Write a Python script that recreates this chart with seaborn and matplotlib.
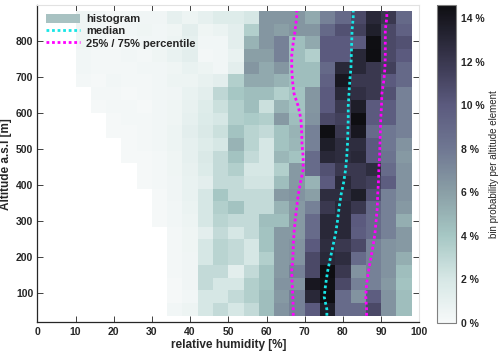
import numpy as np
import pandas as pd
import matplotlib
matplotlib.use('Agg')
import matplotlib.pyplot as plt
from matplotlib.colors import LinearSegmentedColormap
from matplotlib.patches import Patch
from matplotlib.lines import Line2D
import seaborn as sns

# relative humidity bins (centres, %), 4 % wide
rh_centers = [4, 8, 12, 16, 20, 24, 28, 32, 36, 40, 44, 48,
              52, 56, 60, 64, 68, 72, 76, 80, 84, 88, 92, 96]
rh_edges = [2, 6, 10, 14, 18, 22, 26, 30, 34, 38, 42, 46, 50,
            54, 58, 62, 66, 70, 74, 78, 82, 86, 90, 94, 98]

# altitude bins (m a.s.l.), bottom edge and step
alt_bottom = 36.4
alt_step = 35.25
n_alt = 24

# bin probability per altitude element [%], rows listed from TOP to BOTTOM
prob_rows = [
    [0, 0, 0.5, 0.3, 0.2, 0.3, 0.4, 0.4, 1.0, 0.6, 1.0, 1.5, 1.5, 2.0, 6.5, 6.5, 6.5, 5.5, 7.5, 9.0, 11.0, 13.0, 12.0, 9.0],
    [0, 0, 0.5, 0.3, 0.1, 0.3, 0.5, 0.3, 0.5, 1.2, 0.5, 0.7, 1.2, 3.5, 6.5, 6.0, 6.5, 6.5, 9.0, 10.5, 11.5, 13.5, 11.0, 9.5],
    [0, 0, 0.5, 0.3, 0.1, 0.2, 0.3, 0.3, 0.6, 1.0, 0.3, 0.3, 1.2, 5.0, 6.5, 7.5, 4.5, 5.5, 10.0, 10.0, 10.0, 14.5, 11.0, 10.5],
    [0, 0, 0.3, 0.2, 0.2, 0.3, 0.2, 0.5, 0.8, 1.2, 0.2, 0.3, 0.8, 6.0, 6.0, 7.5, 4.5, 3.5, 10.0, 10.0, 13.0, 14.6, 11.0, 10.0],
    [0, 0, 0.3, 0.2, 0.2, 0.2, 0.3, 0.3, 0.5, 0.8, 0.6, 0.3, 1.2, 6.5, 5.5, 6.5, 4.5, 4.5, 9.0, 13.0, 13.0, 12.0, 11.5, 9.0],
    [0, 0, 0.2, 0.1, 0.3, 0.2, 0.2, 0.3, 0.6, 0.6, 0.9, 1.2, 3.5, 5.5, 5.5, 5.0, 4.5, 4.5, 9.5, 14.0, 12.0, 12.0, 10.0, 9.0],
    [0, 0, 0, 0.2, 0.2, 0.1, 0.2, 0.3, 0.4, 0.8, 1.2, 3.0, 4.0, 4.5, 4.5, 3.5, 4.2, 6.5, 10.0, 13.0, 12.5, 12.0, 10.5, 7.5],
    [0, 0, 0, 0.1, 0.2, 0.2, 0.1, 0.3, 0.5, 0.9, 1.5, 2.5, 3.5, 4.5, 2.5, 5.0, 4.2, 6.5, 10.0, 12.0, 13.6, 10.0, 9.8, 7.5],
    [0, 0, 0, 0, 0.1, 0.2, 0.2, 0.3, 0.5, 1.0, 1.6, 2.0, 3.5, 3.8, 3.5, 6.3, 4.5, 6.6, 11.0, 11.5, 14.6, 10.0, 9.8, 7.5],
    [0, 0, 0, 0, 0.1, 0.1, 0.2, 0.3, 0.6, 1.2, 1.8, 2.5, 4.2, 3.2, 2.8, 4.2, 5.0, 7.5, 14.5, 12.0, 14.0, 8.8, 8.0, 7.5],
    [0, 0, 0, 0, 0, 0.1, 0.2, 0.3, 0.6, 1.0, 1.5, 2.0, 5.0, 3.2, 2.0, 4.2, 4.8, 7.5, 13.6, 12.7, 12.7, 10.0, 8.0, 6.6],
    [0, 0, 0, 0, 0, 0.1, 0.1, 0.2, 0.5, 1.0, 1.8, 2.8, 4.2, 2.8, 2.0, 4.8, 4.2, 8.8, 13.0, 12.7, 13.0, 10.0, 8.3, 6.3],
    [0, 0, 0, 0, 0, 0, 0.1, 0.2, 0.5, 0.9, 1.6, 2.8, 3.5, 2.0, 2.0, 3.5, 6.3, 8.8, 10.5, 12.0, 12.0, 12.7, 8.8, 6.6],
    [0, 0, 0, 0, 0, 0, 0.1, 0.2, 0.4, 0.8, 1.2, 2.8, 2.8, 2.2, 2.2, 4.5, 6.3, 5.0, 10.0, 13.0, 12.0, 11.5, 9.8, 6.6],
    [0, 0, 0, 0, 0, 0, 0, 0.1, 0.4, 0.8, 2.0, 4.0, 2.8, 2.8, 2.8, 6.3, 6.6, 6.0, 12.7, 12.7, 13.6, 10.5, 7.5, 6.6],
    [0, 0, 0, 0, 0, 0, 0, 0.1, 0.3, 0.7, 2.0, 3.5, 4.2, 2.8, 2.8, 5.0, 6.3, 7.5, 12.0, 13.0, 12.0, 9.0, 7.5, 6.3],
    [0, 0, 0, 0, 0, 0, 0, 0.1, 0.3, 0.6, 2.0, 3.2, 2.8, 2.8, 4.5, 4.5, 6.3, 8.8, 13.0, 13.0, 10.0, 8.8, 7.5, 5.3],
    [0, 0, 0, 0, 0, 0, 0, 0, 0.2, 0.5, 1.2, 2.8, 2.0, 2.8, 4.2, 6.3, 6.3, 8.8, 13.0, 13.0, 9.8, 8.8, 7.5, 6.3],
    [0, 0, 0, 0, 0, 0, 0, 0, 0.2, 0.5, 2.0, 3.2, 2.8, 2.0, 4.2, 6.3, 6.6, 10.0, 12.7, 12.0, 11.0, 7.5, 6.6, 6.3],
    [0, 0, 0, 0, 0, 0, 0, 0, 0.2, 0.4, 2.0, 3.2, 2.8, 2.0, 3.5, 6.3, 6.6, 11.0, 13.0, 12.7, 8.8, 7.5, 6.6, 5.3],
    [0, 0, 0, 0, 0, 0, 0, 0, 0.2, 0.4, 2.8, 2.8, 1.2, 2.8, 4.2, 6.3, 7.5, 11.0, 14.6, 12.0, 6.6, 7.5, 6.6, 4.5],
    [0, 0, 0, 0, 0, 0, 0, 0, 0.1, 0.4, 2.8, 2.0, 2.0, 3.5, 4.2, 6.6, 6.6, 14.0, 14.4, 11.0, 7.5, 7.5, 6.3, 4.2],
    [0, 0, 0, 0, 0, 0, 0, 0, 0.1, 0.3, 2.0, 2.0, 2.8, 3.5, 4.5, 6.3, 7.5, 13.0, 14.6, 8.8, 6.6, 9.8, 6.6, 4.5],
    [0, 0, 0, 0, 0, 0, 0, 0, 0.3, 0.6, 2.0, 2.8, 2.0, 2.8, 4.5, 6.6, 7.5, 10.0, 13.6, 8.8, 8.8, 11.0, 6.6, 4.5],
]

# median and 25 / 75 % percentiles of RH per altitude bin, TOP to BOTTOM
median_rh = [82.7, 82.4, 82.3, 82.2, 82.1, 81.8, 81.6, 81.4, 81.4, 81.3, 81.2, 81.0,
             80.7, 80.2, 79.5, 79.0, 78.6, 78.1, 77.4, 76.7, 76.0, 75.5, 75.1, 75.8]
p25_rh = [67.9, 67.5, 67.0, 66.6, 66.6, 66.8, 67.2, 68.3, 69.0, 69.2, 69.3, 69.6,
          69.6, 68.9, 68.3, 67.9, 67.5, 67.2, 67.0, 66.9, 66.6, 66.7, 66.9, 67.0]
p75_rh = [91.5, 91.1, 91.1, 91.1, 91.0, 90.7, 90.2, 90.1, 89.9, 89.8, 89.7, 89.6,
          89.4, 89.3, 89.1, 89.0, 88.7, 88.4, 87.9, 87.3, 86.7, 86.2, 86.0, 86.2]

# colormap
cb_levels = [0, 2, 4, 6, 8, 10, 12, 14.6]
cb_colors = ['#f6f9f9', '#d6e7e5', '#a6c7c4', '#8a9fa6', '#6f7792', '#5b5a7e', '#3a3850', '#0e0e12']
vmax = 14.6

cmap = LinearSegmentedColormap.from_list(
    'rh', [(l / vmax, c) for l, c in zip(cb_levels, cb_colors)])

alt_edges = alt_bottom + alt_step * np.arange(n_alt + 1)
alt_centers = (alt_edges[:-1] + alt_edges[1:]) / 2

prob = np.array(prob_rows)[::-1]          # bottom to top
xx, yy = np.meshgrid(rh_centers, alt_centers)
df = pd.DataFrame({'rh': xx.ravel(), 'alt': yy.ravel(), 'p': prob.ravel()})
df = df[df['p'] > 0]

sns.set_style('ticks')
plt.rcParams['font.family'] = ['Liberation Sans', 'DejaVu Sans']
plt.rcParams['font.weight'] = 'bold'
plt.rcParams['axes.labelweight'] = 'bold'

fig = plt.figure(figsize=(5, 3.57), dpi=100)
ax = fig.add_axes([0.0746, 0.097, 0.764, 0.889])
cax = fig.add_axes([0.8746, 0.096, 0.0368, 0.890])

sns.histplot(data=df, x='rh', y='alt', weights='p', bins=(rh_edges, alt_edges),
             cmap=cmap, vmin=0, vmax=vmax, cbar=True, cbar_ax=cax, ax=ax)

# lines, extended to the outer edges of the histogram
alt_line = np.r_[alt_edges[0], alt_centers, alt_edges[-1]]
for vals, col in [(median_rh, '#16e6e6'), (p25_rh, '#ff00ff'), (p75_rh, '#ff00ff')]:
    v = np.array(vals)[::-1]
    v = np.r_[v[0], v, v[-1]]
    sns.lineplot(x=v, y=alt_line, orient='y', estimator=None, color=col,
                 linestyle=(0, (1, 1)), lw=2.0, ax=ax, legend=False)

ax.set_xlim(0, 100)
ax.set_ylim(17.8, 899)
ax.set_xticks(range(0, 101, 10))
ax.set_yticks(range(100, 801, 100))
ax.set_xlabel('relative humidity [%]', fontsize=8.5, labelpad=2)
ax.set_ylabel('Altitude a.s.l [m]', fontsize=8.5, labelpad=3)
ax.tick_params(direction='in', length=4, width=0.7, labelsize=7.5, pad=3, color='#404040',
               top=True, right=True)
for t in ax.get_xticklabels() + ax.get_yticklabels():
    t.set_fontweight('bold')
for s in ['left', 'bottom']:
    ax.spines[s].set_color('#262626')
    ax.spines[s].set_linewidth(0.9)
for s in ['top', 'right']:
    ax.spines[s].set_color('#e2e2e2')
    ax.spines[s].set_linewidth(0.8)

handles = [Patch(facecolor='#a8c2c2', edgecolor='none', label='histogram'),
           Line2D([], [], color='#16e6e6', ls=(0, (1, 1)), lw=2.0, label='median'),
           Line2D([], [], color='#ff00ff', ls=(0, (1, 1)), lw=2.0, label='25% / 75% percentile')]
ax.legend(handles=handles, loc='upper left', frameon=False, handlelength=3.0,
          handleheight=0.9, labelspacing=0.15, borderaxespad=0.4, handletextpad=0.6,
          prop={'weight': 'bold', 'size': 8})

cax.set_ylim(0, vmax)
cax.set_yticks(range(0, 15, 2))
cax.set_yticklabels([f'{v} %' for v in range(0, 15, 2)])
cax.tick_params(direction='in', length=3, width=0.6, labelsize=7.5, color='#606060', pad=4)
for t in cax.get_yticklabels():
    t.set_fontweight('bold')
for s in cax.spines.values():
    s.set_color('#808080')
cax.set_ylabel('bin probability per altitude element', fontsize=7, fontweight='normal',
               labelpad=3)

fig.savefig('out.png', dpi=100)
